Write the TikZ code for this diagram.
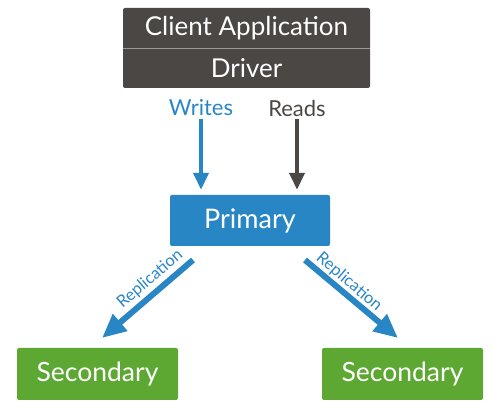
\documentclass[tikz,border=0pt]{standalone}
\usepackage{fontspec}
\setmainfont{Lato}
\usetikzlibrary{arrows.meta,calc}
\definecolor{dgray}{HTML}{4A4744}
\definecolor{mblue}{HTML}{2986C5}
\definecolor{mgreen}{HTML}{5DA733}
\definecolor{divgray}{HTML}{9A9794}
\tikzset{
  x=1pt,y=1pt,
  darkbox/.style={fill=dgray,text=white,minimum width=247pt,minimum height=40pt,inner sep=0pt,font=\fontsize{26}{30}\selectfont},
  primbox/.style={fill=mblue,text=white,rounded corners=2pt,minimum width=160pt,minimum height=51pt,inner sep=0pt,font=\fontsize{27}{30}\selectfont},
  secbox/.style={fill=mgreen,text=white,rounded corners=2pt,minimum width=161pt,minimum height=52pt,inner sep=0pt,font=\fontsize{26.5}{30}\selectfont},
  rwlabel/.style={inner sep=0pt,font=\fontsize{22}{25}\selectfont},
  vline/.style={line width=4pt,-{Triangle[width=15pt,length=17pt]}},
  repline/.style={mblue,line width=6pt,-{Triangle[width=21pt,length=24pt]}},
  replabel/.style={text=mblue,inner sep=0pt,font=\fontsize{16.5}{18}\selectfont},
}
\begin{document}
\begin{tikzpicture}
\useasboundingbox (0,0) rectangle (500,409);
% client application / driver
\fill[dgray,rounded corners=2pt] (123,321) rectangle (370,401);
\node[darkbox,fill=none] (client) at (246.5,381) {Client Application};
\node[darkbox,fill=none] (driver) at (246.5,341) {Driver};
\draw[divgray,line width=0.8pt] (client.south west) -- (client.south east);
% labels
\node[rwlabel,text=mblue] (writes) at (201,301) {Writes};
\node[rwlabel,text=dgray] (reads) at (297,301) {Reads};
% primary
\node[primbox] (primary) at (250,188.5) {Primary};
% secondaries
\node[secbox] (secL) at (97.5,35) {Secondary};
\node[secbox] (secR) at (402.5,35) {Secondary};
% read/write arrows
\draw[vline,mblue,shorten <=3pt,shorten >=5pt] (writes.south) -- (writes.south |- primary.north);
\draw[vline,dgray,shorten <=3pt,shorten >=5pt] (reads.south) -- (reads.south |- primary.north);
% replication arrows
\coordinate (lt) at (193,149);
\coordinate (lh) at (102,71);
\coordinate (rt) at (305,149);
\coordinate (rh) at (398,71);
\draw[repline] (lt) -- (lh);
\draw[repline] (rt) -- (rh);
\node[replabel,rotate=40.6] (repL) at (150,130) {Replication};
\node[replabel,rotate=-40.6] (repR) at (349,127) {Replication};
\end{tikzpicture}
\end{document}
